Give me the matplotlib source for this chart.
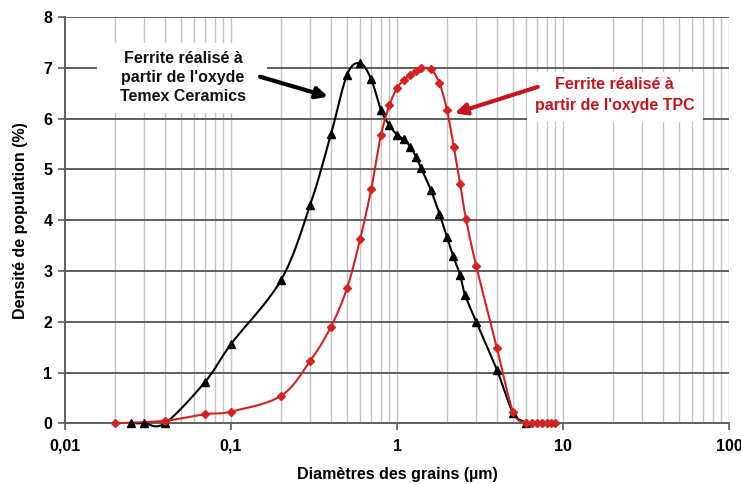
import numpy as np
import matplotlib
matplotlib.use("Agg")
import matplotlib.pyplot as plt
from matplotlib.patches import Rectangle
from matplotlib.ticker import FixedLocator, NullFormatter

plt.rcParams['font.family'] = ['Liberation Sans', 'DejaVu Sans']
plt.rcParams['font.weight'] = 'bold'

# Grain-size distribution, oxide Temex Ceramics (black, triangles)
temex_d = [0.025, 0.03, 0.04, 0.07, 0.1, 0.2, 0.3, 0.4, 0.5, 0.6, 0.7, 0.8, 0.9,
           1.0, 1.1, 1.2, 1.3, 1.4, 1.6, 1.8, 2.0, 2.18, 2.4, 2.57, 3.0, 4.0, 5.0, 6.0]
temex_pop = [0, 0, 0, 0.82, 1.56, 2.82, 4.30, 5.69, 6.86, 7.09, 6.77, 6.17, 5.87,
             5.68, 5.59, 5.45, 5.25, 5.02, 4.59, 4.13, 3.66, 3.29, 2.92, 2.53, 2.0, 1.05, 0.21, 0]

# Grain-size distribution, oxide TPC (red, diamonds)
tpc_d = [0.02, 0.04, 0.07, 0.1, 0.2, 0.3, 0.4, 0.5, 0.6, 0.7, 0.8, 0.9, 1.0, 1.1,
         1.2, 1.3, 1.4, 1.6, 1.8, 2.0, 2.2, 2.4, 2.6, 3.0, 4.0, 5.0, 6.0, 6.5, 7.0,
         7.5, 8.0, 8.5, 9.0]
tpc_pop = [0, 0.05, 0.18, 0.23, 0.54, 1.23, 1.90, 2.66, 3.63, 4.62, 5.67, 6.26, 6.60,
           6.76, 6.86, 6.94, 6.99, 6.97, 6.70, 6.17, 5.44, 4.72, 4.03, 3.10, 1.48, 0.23,
           0, 0, 0, 0, 0, 0, 0]

x_ticks = [0.01, 0.1, 1, 10, 100]
x_tick_labels = ["0,01", "0,1", "1", "10", "100"]
y_ticks = [0, 1, 2, 3, 4, 5, 6, 7, 8]

RED = "#d42222"
RED_TEXT = "#c8141e"


def smooth(xs, ys, n=12):
    """Catmull-Rom spline through the points, in log-x space."""
    lx = np.log10(np.asarray(xs, float))
    y = np.asarray(ys, float)
    px = np.concatenate([[2 * lx[0] - lx[1]], lx, [2 * lx[-1] - lx[-2]]])
    py = np.concatenate([[2 * y[0] - y[1]], y, [2 * y[-1] - y[-2]]])
    out_x, out_y = [], []
    t = np.linspace(0, 1, n, endpoint=False)
    for i in range(1, len(px) - 2):
        for arr, out in ((px, out_x), (py, out_y)):
            p0, p1, p2, p3 = arr[i - 1], arr[i], arr[i + 1], arr[i + 2]
            seg = 0.5 * ((2 * p1) + (-p0 + p2) * t
                         + (2 * p0 - 5 * p1 + 4 * p2 - p3) * t ** 2
                         + (-p0 + 3 * p1 - 3 * p2 + p3) * t ** 3)
            out.extend(seg)
    out_x.append(lx[-1])
    out_y.append(y[-1])
    return 10 ** np.array(out_x), np.array(out_y)


fig = plt.figure(figsize=(7.41, 4.84), dpi=100)
ax = fig.add_axes([65 / 741, 1 - 423.3 / 484, 664 / 741, 406.3 / 484])

ax.set_xscale("log")
ax.set_xlim(0.01, 100)
ax.set_ylim(0, 8)

# grid: light vertical log lines, dark horizontal lines
minor = [m * 10.0 ** e for e in range(-2, 2) for m in range(2, 11)]
for xv in minor:
    ax.axvline(xv, color="#c4c4c4", lw=1.0, zorder=1)
for yv in y_ticks[1:]:
    ax.axhline(yv, color="#5e5e5e", lw=1.4, zorder=1)

for side in ("top", "right"):
    ax.spines[side].set_visible(False)
for side in ("left", "bottom"):
    ax.spines[side].set_color("#5e5e5e")
    ax.spines[side].set_linewidth(1.4)

ax.xaxis.set_major_locator(FixedLocator(x_ticks))
ax.set_xticklabels(x_tick_labels)
ax.xaxis.set_minor_locator(FixedLocator([]))
ax.xaxis.set_minor_formatter(NullFormatter())
ax.set_yticks(y_ticks)
ax.tick_params(axis="both", which="major", labelsize=11.5, length=5, width=1.2,
               color="#5e5e5e", pad=4)
ax.tick_params(axis="x", pad=6)
for lab in ax.get_xticklabels() + ax.get_yticklabels():
    lab.set_fontweight("bold")

ax.set_xlabel("Diamètres des grains (µm)", fontsize=11.5, fontweight="bold", labelpad=10)
ax.set_ylabel("Densité de population (%)", fontsize=11.5, fontweight="bold", labelpad=11)

# curves
sx, sy = smooth(temex_d, temex_pop)
ax.plot(sx, sy, color="black", lw=1.5, zorder=4, clip_on=False)
ax.plot(temex_d, temex_pop, ls="none", marker="^", ms=6, color="black", zorder=5,
        clip_on=False)

sx, sy = smooth(tpc_d, tpc_pop)
ax.plot(sx, sy, color=RED, lw=1.5, zorder=4, clip_on=False)
ax.plot(tpc_d, tpc_pop, ls="none", marker="D", ms=4.5, color=RED, zorder=5,
        clip_on=False)

# white label panels masking the grid
ax.add_patch(Rectangle((0.0482, 0.7637), 0.256, 0.172, transform=ax.transAxes,
                       facecolor="white", edgecolor="none", zorder=2))
ax.add_patch(Rectangle((0.6958, 0.742), 0.265, 0.123, transform=ax.transAxes,
                       facecolor="white", edgecolor="none", zorder=2))

# annotations
ax.text(0.1777, 0.852, "Ferrite réalisé à\npartir de l'oxyde\nTemex Ceramics",
        transform=ax.transAxes, ha="center", va="center", fontsize=11.5,
        fontweight="bold", color="#111111", linespacing=1.34, zorder=3)
ax.annotate("", xy=(0.396, 0.804), xytext=(0.2937, 0.853),
            xycoords="axes fraction", textcoords="axes fraction",
            arrowprops=dict(arrowstyle="-|>", color="black", lw=3,
                            mutation_scale=17, shrinkA=0, shrinkB=0), zorder=6)

ax.text(0.828, 0.808, "Ferrite réalisé à\npartir de l'oxyde TPC",
        transform=ax.transAxes, ha="center", va="center", fontsize=11.5,
        fontweight="bold", color=RED_TEXT, linespacing=1.45, zorder=3)
ax.annotate("", xy=(0.587, 0.763), xytext=(0.712, 0.828),
            xycoords="axes fraction", textcoords="axes fraction",
            arrowprops=dict(arrowstyle="-|>", color=RED_TEXT, lw=3,
                            mutation_scale=17, shrinkA=0, shrinkB=0), zorder=6)

fig.savefig("out.png", dpi=100, facecolor="white")
